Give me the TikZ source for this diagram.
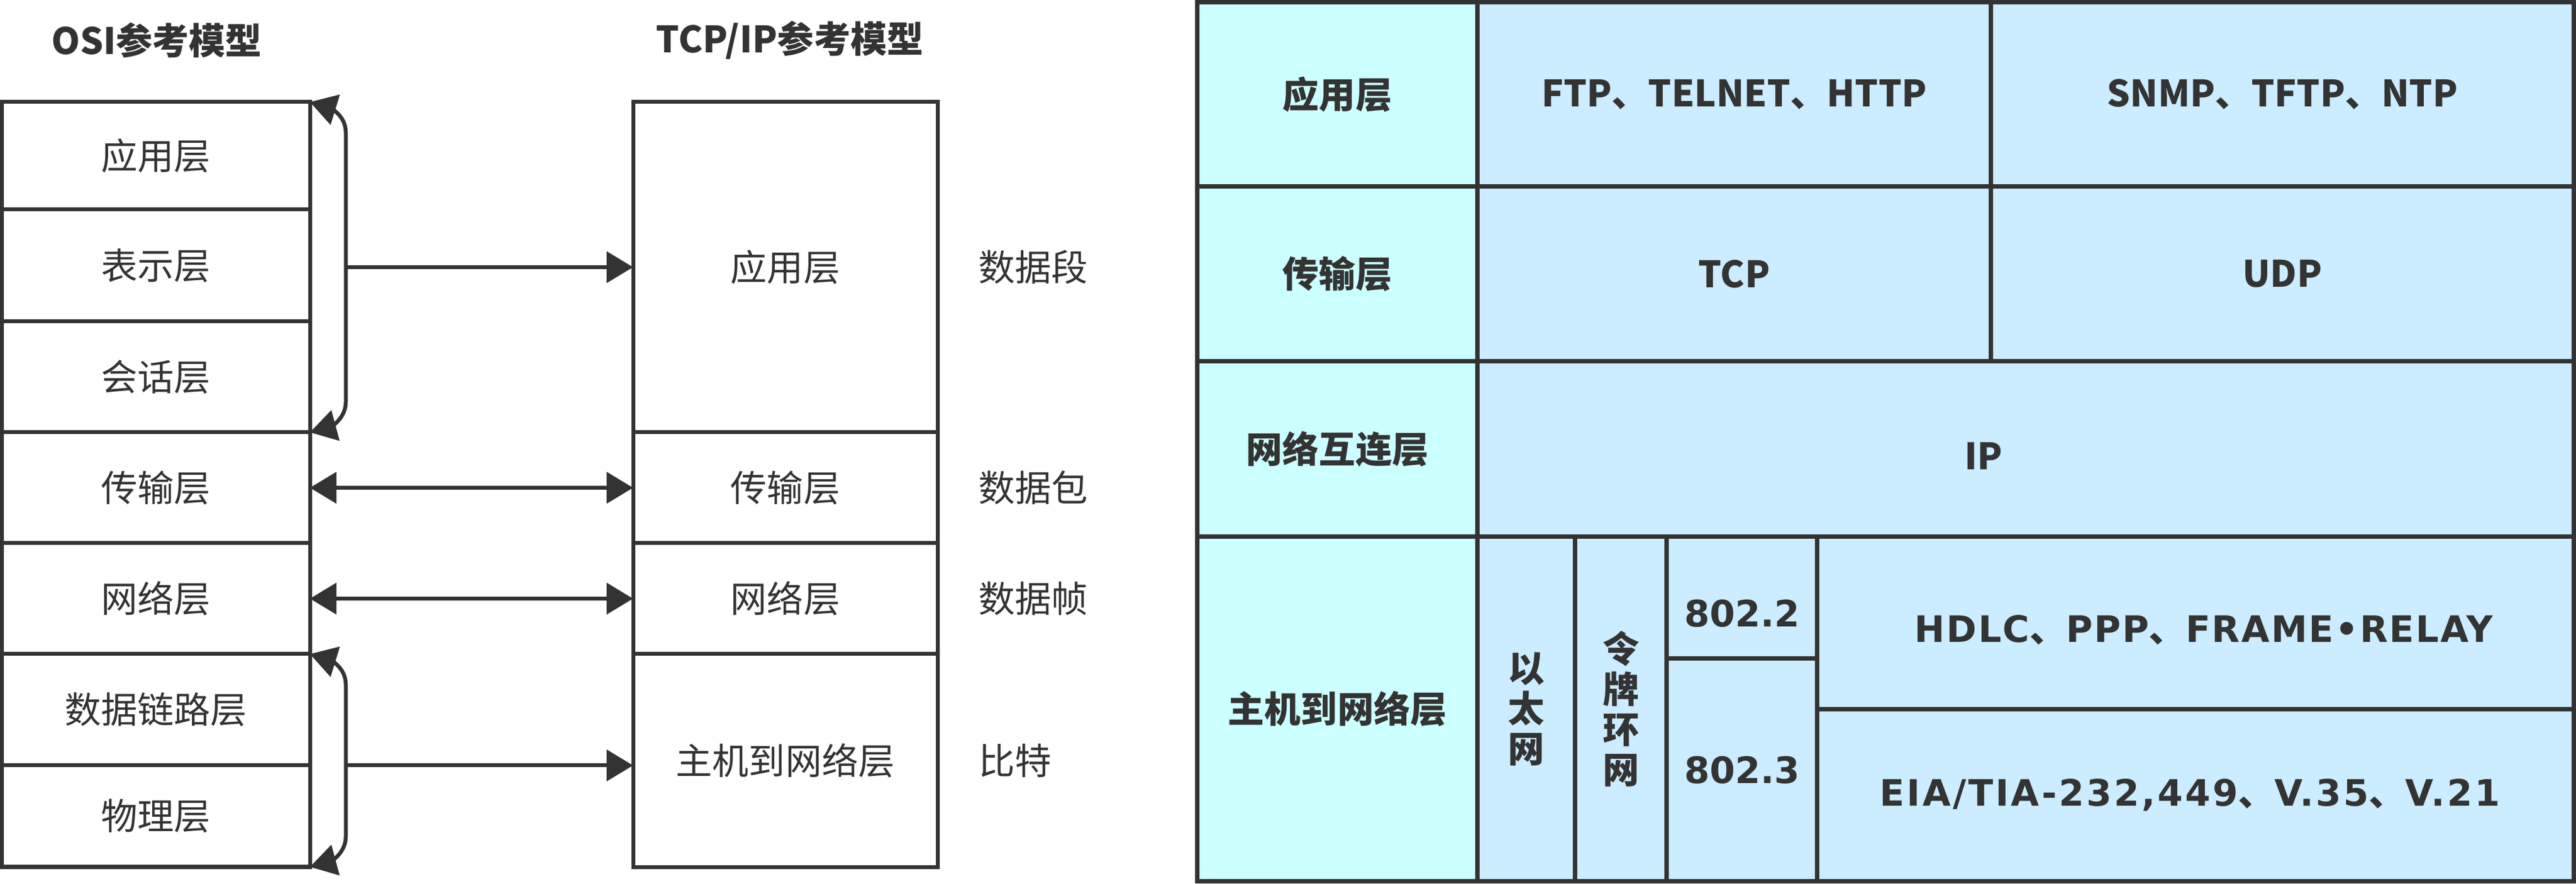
\documentclass[tikz,border=0pt]{standalone}
\usepackage{fontspec}
\setmainfont{Noto Sans CJK SC}
\newfontfamily\dejavu{DejaVu Sans}
\newfontfamily\dejavuwide{DejaVu Sans}[LetterSpace=4]
\newfontfamily\dejavuwider{DejaVu Sans}[LetterSpace=6]
\usetikzlibrary{arrows.meta,positioning,calc}
\definecolor{ink}{HTML}{333333}
\definecolor{headfill}{HTML}{CCFFFF}
\definecolor{cellfill}{HTML}{CCECFF}
\newcommand{\dunhao}{{\rmfamily\bfseries 、}}

\begin{document}
\begin{tikzpicture}[x=1cm,y=1cm,
		layer/.style={draw=ink, line width=0.07cm, outer sep=0pt, inner sep=0pt, minimum width=5.585cm, text=ink, font=\fontsize{18.8}{22}\selectfont},
		tlayer/.style={layer, minimum width=5.52cm},
		title/.style={inner sep=0pt, text=ink, font=\fontsize{18.8}{22}\selectfont\bfseries},
		unit/.style={inner sep=0pt, text=ink, font=\fontsize{18.8}{22}\selectfont},
		cell/.style={draw=ink, line width=0.08cm, outer sep=0pt, inner sep=0pt, fill=cellfill, text=ink, align=center, font=\fontsize{18.8}{20.8}\selectfont\bfseries},
		head/.style={cell, fill=headfill, minimum width=5.08cm},
		proto/.style={inner sep=0pt, text=ink, font=\fontsize{18.8}{22}\selectfont\dejavu\bfseries},
		protowide/.style={proto, font=\fontsize{18.8}{22}\selectfont\dejavuwide\bfseries},
		onearrow/.style={draw=ink, line width=0.07cm, -{Triangle[length=0.48cm,width=0.56cm]}},
		twoarrow/.style={onearrow, {Triangle[length=0.48cm,width=0.56cm]}-{Triangle[length=0.48cm,width=0.56cm]}}]
	\useasboundingbox (0,0) rectangle (46.71,16.02);

	\node[title] (ositit) at (2.84,15.29) {OSI参考模型};
	\node[title] (tcptit) at (14.32,15.29) {TCP/IP参考模型};

	\node[layer, minimum height=1.95cm] (oapp) at (2.8275,13.195) {应用层};
	\node[layer, minimum height=2.03cm] (opre) [below=0pt of oapp] {表示层};
	\node[layer, minimum height=2.01cm] (oses) [below=0pt of opre] {会话层};
	\node[layer, minimum height=2.01cm] (otrans) [below=0pt of oses] {传输层};
	\node[layer, minimum height=2.01cm] (onet) [below=0pt of otrans] {网络层};
	\node[layer, minimum height=2.02cm] (olink) [below=0pt of onet] {数据链路层};
	\node[layer, minimum height=1.84cm] (ophy) [below=0pt of olink] {物理层};

	\node[tlayer, minimum height=5.99cm] (tapp) at (14.24,11.175) {应用层};
	\node[tlayer, minimum height=2.01cm] (ttrans) [below=0pt of tapp] {传输层};
	\node[tlayer, minimum height=2.01cm] (tnet) [below=0pt of ttrans] {网络层};
	\node[tlayer, minimum height=3.86cm] (thost) [below=0pt of tnet] {主机到网络层};

	\node[unit] (useg) [right=0.74cm of tapp] {数据段};
	\node[unit] (upkt) [right=0.74cm of ttrans] {数据包};
	\node[unit] (ufrm) [right=0.74cm of tnet] {数据帧};
	\node[unit] (ubit) [right=0.74cm of thost] {比特};

	\coordinate (brace1) at ($(oapp.north east)+(0.65,0)$);
	\coordinate (brace2) at ($(olink.north east)+(0.65,0)$);
	\draw[twoarrow] (oapp.north east) to[out=-17, in=90] ($(brace1)+(0,-0.55)$)
		-- ($(brace1 |- oses.south)+(0,0.55)$) to[out=-90, in=15] (oses.south east);
	\draw[twoarrow] (olink.north east) to[out=-17, in=90] ($(brace2)+(0,-0.55)$)
		-- ($(brace2 |- ophy.south)+(0,0.55)$) to[out=-90, in=15] (ophy.south east);
	\draw[onearrow] (brace1 |- tapp.west) -- (tapp.west);
	\draw[twoarrow] (otrans.east) -- (ttrans.west);
	\draw[twoarrow] (onet.east) -- (tnet.west);
	\draw[onearrow] (brace2 |- ophy.north) -- (thost.west |- ophy.north);

	\node[head, minimum height=3.34cm, anchor=north west] (happ) at (21.71,15.98) {应用层};
	\node[head, minimum height=3.17cm] (htrans) [below=0pt of happ] {传输层};
	\node[head, minimum height=3.18cm] (hnet) [below=0pt of htrans] {网络互连层};
	\node[head, minimum height=6.25cm] (hhost) [below=0pt of hnet] {主机到网络层};

	\node[cell, minimum width=9.31cm, minimum height=3.34cm] (cftp) [right=0pt of happ] {FTP、TELNET、HTTP};
	\node[cell, minimum width=10.57cm, minimum height=3.34cm] (csnmp) [right=0pt of cftp] {SNMP、TFTP、NTP};
	\node[cell, minimum width=9.31cm, minimum height=3.17cm] (ctcp) [right=0pt of htrans] {TCP};
	\node[cell, minimum width=10.57cm, minimum height=3.17cm] (cudp) [right=0pt of ctcp] {UDP};
	\node[cell, minimum width=19.88cm, minimum height=3.18cm] (cip) [right=0pt of hnet] {};
	\node[inner sep=0pt, text=ink, font=\fontsize{18.8}{22}\selectfont\bfseries] (lip) at ([xshift=-0.76cm,yshift=-0.13cm]cip.center) {IP};

	\node[cell, minimum width=1.77cm, minimum height=6.25cm] (ceth) [right=0pt of hhost] {以\\太\\网};
	\node[cell, minimum width=1.66cm, minimum height=6.25cm] (cring) [right=0pt of ceth] {令\\牌\\环\\网};
	\node[cell, minimum width=2.73cm, minimum height=2.21cm, anchor=north west] (c8022) at (cring.north east) {};
	\node[cell, minimum width=2.73cm, minimum height=4.04cm] (c8023) [below=0pt of c8022] {};
	\node[cell, minimum width=13.72cm, minimum height=3.13cm, anchor=north west] (chdlc) at (c8022.north east) {};
	\node[cell, minimum width=13.72cm, minimum height=3.12cm] (ceia) [below=0pt of chdlc] {};

	\node[proto] (l8022) at ([yshift=-0.285cm]c8022.center) {802.2};
	\node[proto] (l8023) at (c8023.center) {802.3};
	\node[protowide] (lhdlc) at ([xshift=0.15cm,yshift=-0.13cm]chdlc.center) {HDLC\dunhao PPP\dunhao FRAME•RELAY};
	\node[proto, font=\fontsize{18.8}{22}\selectfont\dejavuwider\bfseries] (leia) at ([xshift=-0.1cm]ceia.center) {EIA/TIA-232,449\dunhao V.35\dunhao V.21};
\end{tikzpicture}
\end{document}
